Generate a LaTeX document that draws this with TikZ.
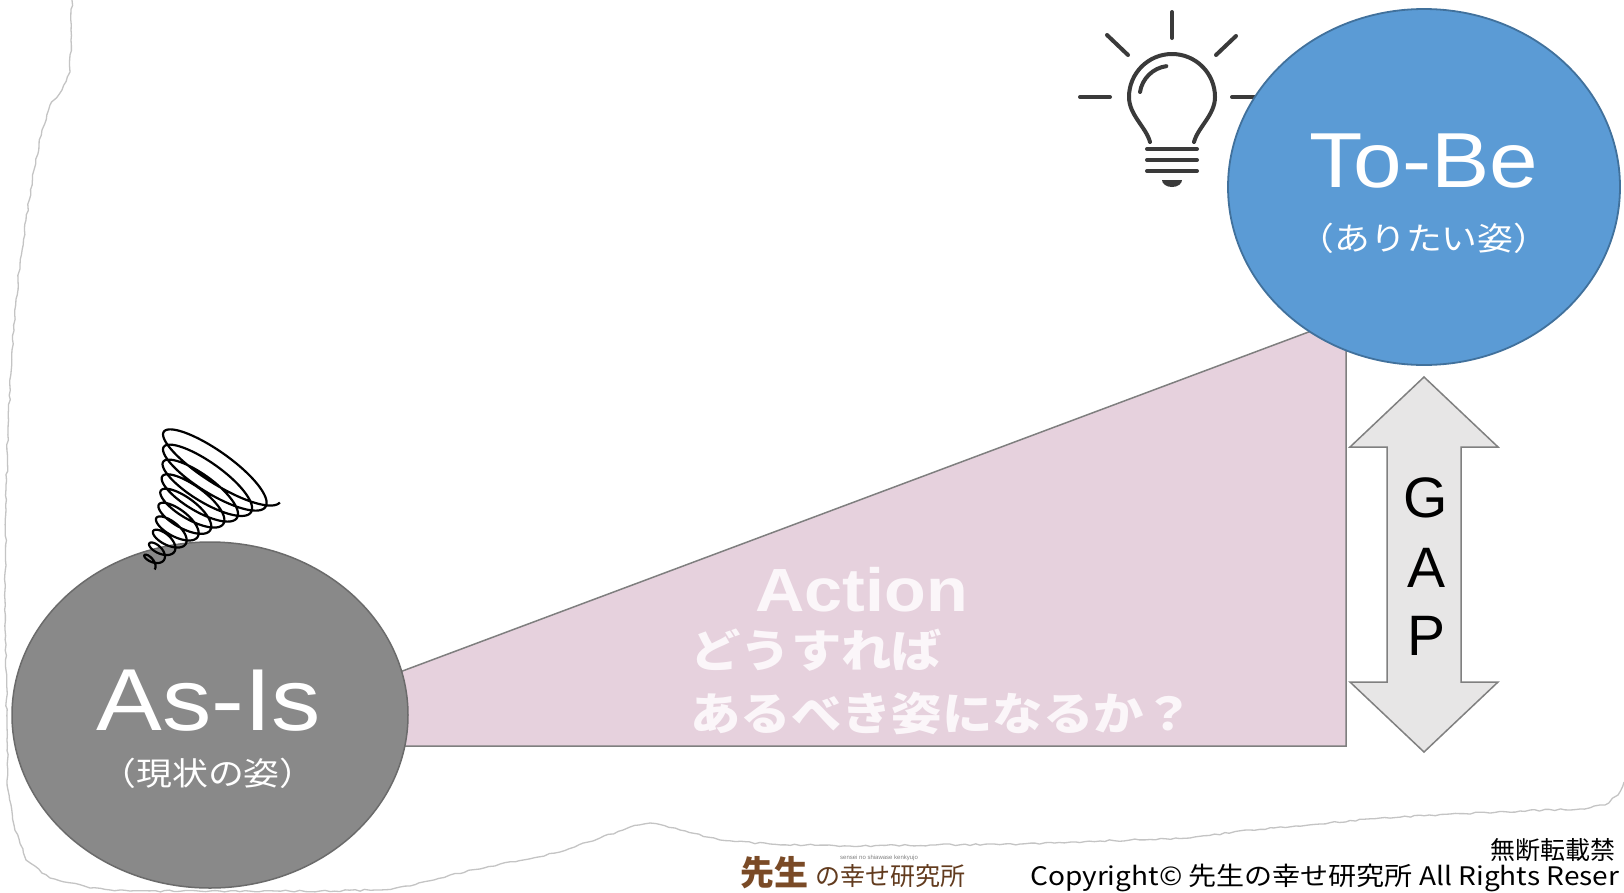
\documentclass[tikz,border=0pt]{standalone}
\usepackage{fontspec}
\setmainfont{Liberation Sans}
\newfontfamily\widesans{Liberation Sans}[FakeStretch=1.12]
\newfontfamily\widejp{Noto Sans CJK JP}[FakeStretch=1.12]
\newfontfamily\jpfont{Noto Sans CJK JP}
\newfontfamily\jpwidefoot{Noto Sans CJK JP}[FakeStretch=1.1]
\usetikzlibrary{shapes.geometric,decorations.pathmorphing}

\definecolor{asisgrey}{HTML}{898989}
\definecolor{asisedge}{HTML}{6B6B6B}
\definecolor{tobeblue}{HTML}{5B9BD5}
\definecolor{tobeedge}{HTML}{41719C}
\definecolor{actionpink}{HTML}{E6D1DD}
\definecolor{actionedge}{HTML}{7F7F7F}
\definecolor{gapgrey}{HTML}{E7E6E6}
\definecolor{gapedge}{HTML}{808080}
\definecolor{tornedge}{HTML}{C4C4C4}
\definecolor{bulbink}{HTML}{3A3A3A}
\definecolor{logobrown}{HTML}{7A4A26}
\definecolor{softwhite}{HTML}{FBF6F9}

\begin{document}
\begin{tikzpicture}[x=1pt,y=-1pt,
  torn/.style={draw=tornedge, line width=1.3pt, decorate,
    decoration={random steps, segment length=5pt, amplitude=0.9pt}},
  actionshape/.style={fill=actionpink, draw=actionedge, line width=1.5pt, line join=miter},
  state/.style={ellipse, inner sep=0pt},
  asisstate/.style={state, fill=asisgrey, draw=asisedge, line width=1.5pt},
  tobestate/.style={state, fill=tobeblue, draw=tobeedge, line width=1.8pt},
  gapshape/.style={fill=gapgrey, draw=gapedge, line width=1.5pt, line join=miter},
  bulb/.style={draw=bulbink, line width=4pt, line cap=round},
  scribble/.style={draw=black, line width=2.2pt, line join=round},
  titletext/.style={inner sep=0pt, text=white, anchor=base},
  subtext/.style={inner sep=0pt, text=white, font=\widejp\fontsize{32}{32}\selectfont},
  actiontext/.style={inner sep=0pt, text=softwhite},
  gapletter/.style={inner sep=0pt, anchor=base, font=\fontsize{57}{57}\selectfont},
  footertext/.style={inner sep=0pt}
]
\useasboundingbox (0,0) rectangle (1624,892);
\clip (0,0) rectangle (1624,892);
\fill[white] (0,0) rectangle (1624,892);

% torn paper edge, left side and bottom
\draw[torn] (72,0) -- (71,40) -- (70,72) -- (62,90) -- (50,105) -- (42,130)
  -- (34,170) -- (26,220) -- (18,280) -- (12,350) -- (8,430) -- (6,510)
  -- (5,590) -- (6,670) -- (7,740) -- (8,790) -- (14,825) -- (26,860)
  -- (50,878) -- (90,888) -- (130,891) -- (220,891) -- (320,891) -- (380,890)
  -- (410,886) -- (450,875) -- (500,864) -- (560,852) -- (600,838)
  -- (630,827) -- (650,823) -- (680,830) -- (720,840) -- (770,844)
  -- (850,846) -- (930,845) -- (1020,844) -- (1100,841) -- (1190,838)
  -- (1250,830) -- (1320,824) -- (1380,818) -- (1450,814) -- (1520,811)
  -- (1580,809) -- (1605,805) -- (1618,795) -- (1624,782);

% action wedge between the two states
\draw[actionshape] (202,746) -- (1346,746) -- (1346,318) -- cycle;

% current state
\node[asisstate, minimum width=396pt, minimum height=346pt] (asis) at (210,715) {};

% light bulb
\begin{scope}[bulb]
  \draw (1172,12) -- (1172,38);
  \draw (1107,35) -- (1128,55);
  \draw (1236,36) -- (1216,55);
  \draw (1080,97) -- (1110,97);
  \draw (1232,97) -- (1262,97);
  \draw (1150,142) .. controls (1146,127) and (1129,115) .. (1129,97)
    arc[start angle=180, end angle=0, radius=43pt]
    .. controls (1215,115) and (1198,127) .. (1194,142);
  \draw (1140,92) arc[start angle=171, end angle=98, radius=31pt];
  \draw (1147,149) -- (1197,149);
  \draw (1147,160) -- (1197,160);
  \draw (1147,171) -- (1197,171);
  \fill[bulbink] (1162,180) arc[start angle=180, end angle=360, x radius=10pt, y radius=7pt] -- cycle;
\end{scope}

% target state
\node[tobestate, minimum width=392pt, minimum height=356pt] (tobe) at (1424,187) {};

% gap arrow
\draw[gapshape] (1424,377) -- (1498,447) -- (1461,447) -- (1461,682) -- (1498,682)
  -- (1424,752) -- (1350,682) -- (1387,682) -- (1387,447) -- (1350,447) -- cycle;
\node[gapletter] (gapg) at (1426,517) {G};
\node[gapletter] (gapa) at (1426,587) {A};
\node[gapletter] (gapp) at (1426,655) {P};

% state labels
\node[titletext, font=\widesans\fontsize{78}{78}\selectfont] (tobetitle) at (1424,187) {To-Be};
\node[subtext] (tobesub) at (1424,238) {（ありたい姿）};
\node[titletext, font=\widesans\fontsize{88}{88}\selectfont] (asistitle) at (209,730) {As-Is};
\node[subtext] (asissub) at (208,773) {（現状の姿）};

% action labels
\node[actiontext, anchor=base west, font=\widesans\bfseries\fontsize{61}{61}\selectfont] (action) at (755,611) {Action};
\node[actiontext, anchor=west, font=\widejp\bfseries\fontsize{45}{45}\selectfont] (howline) at (690,650) {どうすれば};
\node[actiontext, anchor=west, font=\widejp\bfseries\fontsize{45}{45}\selectfont] (whatline) at (690,713) {あるべき姿になるか？};

% spiral of worry on top of the current state
\draw[scribble] plot[domain=0:1, samples=900, variable=\t]
  ({148+74*\t + (8+62*\t*sqrt(\t))*cos(3600*\t)*0.83 + (4+15*\t)*sin(3600*\t)*0.56},
   {565-102*\t + (8+62*\t*sqrt(\t))*cos(3600*\t)*0.56 - (4+15*\t)*sin(3600*\t)*0.83});

% footer
\node[footertext, anchor=base west, font=\jpfont\bfseries\fontsize{34}{34}\selectfont, text=logobrown] (logomain) at (740,885) {先生};
\node[footertext, anchor=base west, font=\jpfont\fontsize{25}{25}\selectfont, text=logobrown!80!black] (logotail) at (815,885) {の幸せ研究所};
\node[footertext, anchor=west, font=\fontsize{6}{6}\selectfont, text=gray] (logoroman) at (840,858) {sensei no shiawase kenkyujo};
\node[footertext, anchor=west, font=\jpfont\fontsize{25}{25}\selectfont] (noreprint) at (1490,850) {無断転載禁};
\node[footertext, anchor=base west, font=\jpwidefoot\fontsize{25.5}{25.5}\selectfont] (copyright) at (1030,885) {Copyright© 先生の幸せ研究所 All Rights Reser};
\end{tikzpicture}
\end{document}
